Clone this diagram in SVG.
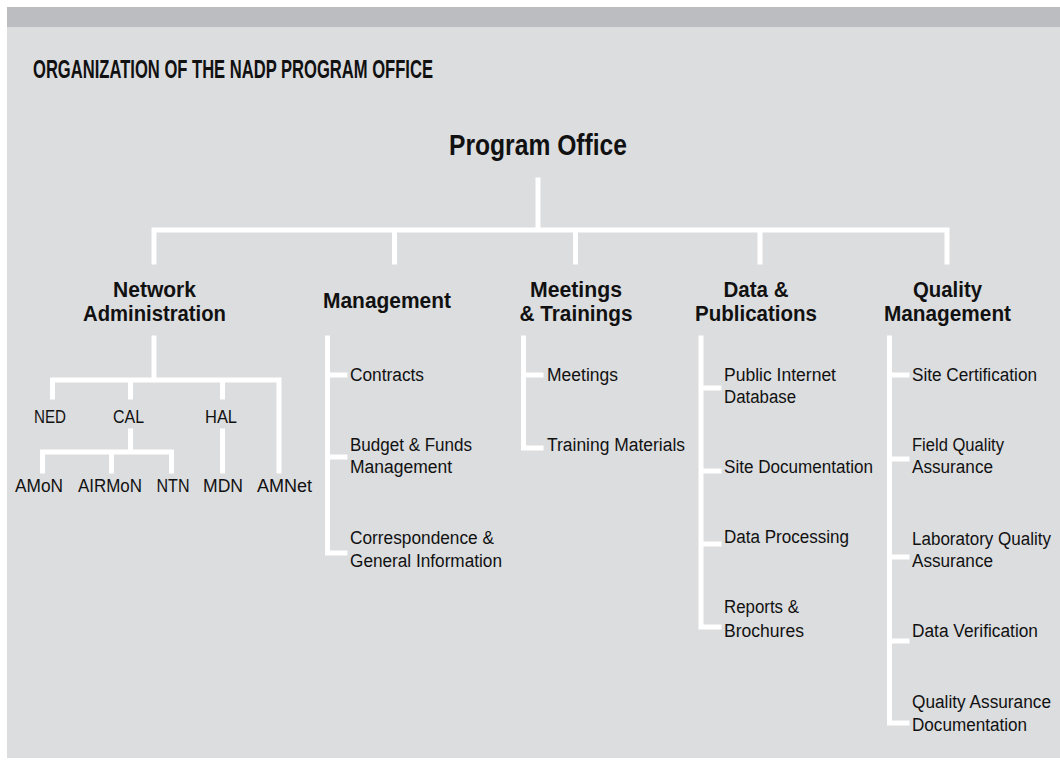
<svg xmlns="http://www.w3.org/2000/svg" width="1060" height="760" viewBox="0 0 1060 760">
<style>
text{font-family:"Liberation Sans Narrow","Liberation Sans",Arial,sans-serif;fill:#111}
.title{font-size:26px;font-weight:bold}
.root{font-size:29px;font-weight:bold}
.h2{font-size:22px;font-weight:bold}
.t{font-size:18px}
.c{text-anchor:middle}
.ln{fill:none;stroke:#fff;stroke-width:5;stroke-linecap:square;stroke-linejoin:miter}
</style>
<rect x="0" y="0" width="1060" height="760" fill="#fff"/>
<rect x="7" y="7" width="1053" height="20" fill="#bcbdc0"/>
<rect x="7" y="27" width="1053" height="731" fill="#dcdddf"/>
<text class="title" x="33" y="78" textLength="400" lengthAdjust="spacingAndGlyphs">ORGANIZATION OF THE NADP PROGRAM OFFICE</text>

<g id="connectors">
<path class="ln" d="M538 180 V230 M154 262 V230 H947 V262 M394.5 230 V262 M575.5 230 V262 M760 230 V262"/>
<path class="ln" d="M154 338 V380 M52.5 397 V380 H279 V471 M130.5 380 V397 M222.5 380 V397"/>
<path class="ln" d="M130.5 431 V452 M42.5 471 V452 H171.5 V471 M111.5 452 V471 M222.5 431 V471"/>
<path class="ln" d="M327.5 338 V553 H345 M327.5 375 H345 M327.5 457 H345"/>
<path class="ln" d="M523.5 338 V448 H541 M523.5 375 H541"/>
<path class="ln" d="M701 338 V627 H719 M701 388 H719 M701 471 H719 M701 544 H719"/>
<path class="ln" d="M889.5 338 V723 H907 M889.5 375 H907 M889.5 459 H907 M889.5 557 H907 M889.5 641 H907"/>
</g>

<g id="program-office"><text class="root c" x="538" y="155" textLength="178" lengthAdjust="spacingAndGlyphs">Program Office</text></g>

<g id="network-administration">
<text class="h2 c" x="154.5" y="297" textLength="83" lengthAdjust="spacingAndGlyphs">Network</text>
<text class="h2 c" x="154.5" y="321" textLength="143" lengthAdjust="spacingAndGlyphs">Administration</text>
</g>
<g id="ned"><text class="t c" x="50" y="423" textLength="32" lengthAdjust="spacingAndGlyphs">NED</text></g>
<g id="cal"><text class="t c" x="128.5" y="423" textLength="31" lengthAdjust="spacingAndGlyphs">CAL</text></g>
<g id="hal"><text class="t c" x="221" y="423" textLength="32" lengthAdjust="spacingAndGlyphs">HAL</text></g>
<g id="amon"><text class="t c" x="39" y="492" textLength="48" lengthAdjust="spacingAndGlyphs">AMoN</text></g>
<g id="airmon"><text class="t c" x="110" y="492" textLength="64" lengthAdjust="spacingAndGlyphs">AIRMoN</text></g>
<g id="ntn"><text class="t c" x="173" y="492" textLength="33" lengthAdjust="spacingAndGlyphs">NTN</text></g>
<g id="mdn"><text class="t c" x="223" y="492" textLength="40" lengthAdjust="spacingAndGlyphs">MDN</text></g>
<g id="amnet"><text class="t c" x="284.5" y="492" textLength="55" lengthAdjust="spacingAndGlyphs">AMNet</text></g>

<g id="management">
<text class="h2" x="323" y="308" textLength="128" lengthAdjust="spacingAndGlyphs">Management</text>
</g>
<g id="contracts"><text class="t" x="350" y="381" textLength="74" lengthAdjust="spacingAndGlyphs">Contracts</text></g>
<g id="budget"><text class="t" x="350" y="451" textLength="122" lengthAdjust="spacingAndGlyphs">Budget &amp; Funds</text><text class="t" x="350" y="473" textLength="102" lengthAdjust="spacingAndGlyphs">Management</text></g>
<g id="correspondence"><text class="t" x="350" y="544" textLength="144" lengthAdjust="spacingAndGlyphs">Correspondence &amp;</text><text class="t" x="350" y="567" textLength="152" lengthAdjust="spacingAndGlyphs">General Information</text></g>

<g id="meetings-trainings">
<text class="h2 c" x="576" y="297" textLength="92" lengthAdjust="spacingAndGlyphs">Meetings</text>
<text class="h2 c" x="576" y="321" textLength="113" lengthAdjust="spacingAndGlyphs">&amp; Trainings</text>
</g>
<g id="meetings"><text class="t" x="547" y="381" textLength="71" lengthAdjust="spacingAndGlyphs">Meetings</text></g>
<g id="training-materials"><text class="t" x="547" y="451" textLength="138" lengthAdjust="spacingAndGlyphs">Training Materials</text></g>

<g id="data-publications">
<text class="h2 c" x="756" y="297" textLength="65" lengthAdjust="spacingAndGlyphs">Data &amp;</text>
<text class="h2 c" x="756" y="321" textLength="122" lengthAdjust="spacingAndGlyphs">Publications</text>
</g>
<g id="public-internet"><text class="t" x="724" y="381" textLength="112" lengthAdjust="spacingAndGlyphs">Public Internet</text><text class="t" x="724" y="403" textLength="72" lengthAdjust="spacingAndGlyphs">Database</text></g>
<g id="site-documentation"><text class="t" x="724" y="473" textLength="149" lengthAdjust="spacingAndGlyphs">Site Documentation</text></g>
<g id="data-processing"><text class="t" x="724" y="543" textLength="125" lengthAdjust="spacingAndGlyphs">Data Processing</text></g>
<g id="reports"><text class="t" x="724" y="613" textLength="75" lengthAdjust="spacingAndGlyphs">Reports &amp;</text><text class="t" x="724" y="637" textLength="80" lengthAdjust="spacingAndGlyphs">Brochures</text></g>

<g id="quality-management">
<text class="h2 c" x="947.5" y="297" textLength="69" lengthAdjust="spacingAndGlyphs">Quality</text>
<text class="h2 c" x="947.5" y="321" textLength="127" lengthAdjust="spacingAndGlyphs">Management</text>
</g>
<g id="site-certification"><text class="t" x="912" y="381" textLength="125" lengthAdjust="spacingAndGlyphs">Site Certification</text></g>
<g id="field-qa"><text class="t" x="912" y="451" textLength="92" lengthAdjust="spacingAndGlyphs">Field Quality</text><text class="t" x="912" y="473" textLength="81" lengthAdjust="spacingAndGlyphs">Assurance</text></g>
<g id="lab-qa"><text class="t" x="912" y="545" textLength="139" lengthAdjust="spacingAndGlyphs">Laboratory Quality</text><text class="t" x="912" y="567" textLength="81" lengthAdjust="spacingAndGlyphs">Assurance</text></g>
<g id="data-verification"><text class="t" x="912" y="637" textLength="126" lengthAdjust="spacingAndGlyphs">Data Verification</text></g>
<g id="qa-documentation"><text class="t" x="912" y="708" textLength="139" lengthAdjust="spacingAndGlyphs">Quality Assurance</text><text class="t" x="912" y="731" textLength="115" lengthAdjust="spacingAndGlyphs">Documentation</text></g>
</svg>
